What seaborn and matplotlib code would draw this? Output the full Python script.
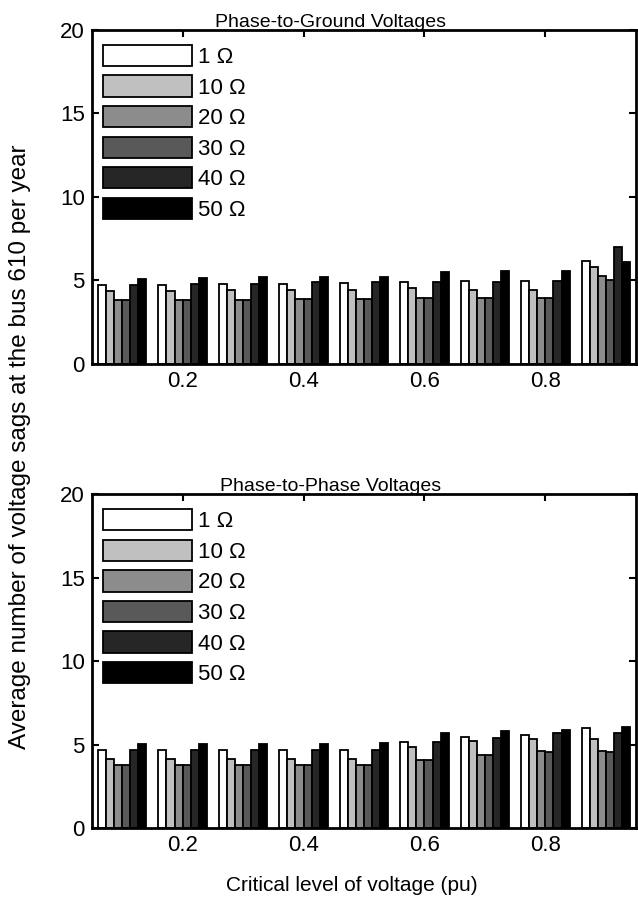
'''
Grouped bar charts of voltage sags at bus 610 for different fault resistances.
'''

import pandas as pd
import matplotlib
matplotlib.use("Agg")
import matplotlib.pyplot as plt
import seaborn as sns


sns.set_style("ticks")
plt.rcParams['font.family'] = ['Liberation Sans', 'DejaVu Sans']
plt.rcParams['text.color'] = "black"
plt.rcParams['xtick.color'] = "black"
plt.rcParams['ytick.color'] = "black"
plt.rcParams['axes.edgecolor'] = "black"


#Data
levels = [0.1, 0.2, 0.3, 0.4, 0.5, 0.6, 0.7, 0.8, 0.9]
resistances = ["1 Ω", "10 Ω", "20 Ω", "30 Ω", "40 Ω", "50 Ω"]

ground_1 = [4.73, 4.73, 4.77, 4.77, 4.83, 4.87, 4.97, 4.97, 6.17]
ground_10 = [4.39, 4.39, 4.43, 4.43, 4.43, 4.53, 4.43, 4.43, 5.77]
ground_20 = [3.83, 3.83, 3.83, 3.89, 3.89, 3.93, 3.93, 3.93, 5.27]
ground_30 = [3.83, 3.83, 3.83, 3.89, 3.89, 3.93, 3.93, 3.93, 5.03]
ground_40 = [4.73, 4.77, 4.77, 4.87, 4.87, 4.87, 4.87, 4.97, 6.99]
ground_50 = [5.07, 5.15, 5.19, 5.19, 5.19, 5.47, 5.53, 5.57, 6.09]

phase_1 = [4.67, 4.67, 4.67, 4.67, 4.67, 5.17, 5.47, 5.57, 5.97]
phase_10 = [4.11, 4.11, 4.11, 4.11, 4.11, 4.83, 5.21, 5.31, 5.31]
phase_20 = [3.77, 3.77, 3.77, 3.77, 3.77, 4.07, 4.37, 4.63, 4.63]
phase_30 = [3.77, 3.77, 3.77, 3.77, 3.77, 4.07, 4.37, 4.55, 4.57]
phase_40 = [4.67, 4.67, 4.67, 4.67, 4.67, 5.17, 5.37, 5.67, 5.71]
phase_50 = [5.01, 5.01, 5.01, 5.01, 5.07, 5.71, 5.81, 5.87, 6.03]

greys = ["#FFFFFF", "#C0C0C0", "#8C8C8C", "#595959", "#262626", "#000000"]


def long_frame(series):
    rows = []
    for name, values in zip(resistances, series):
        for lvl, v in zip(levels, values):
            rows.append({"level": lvl, "resistance": name, "sags": v})
    return pd.DataFrame(rows)


ground_data = long_frame([ground_1, ground_10, ground_20, ground_30,
                          ground_40, ground_50])
phase_data = long_frame([phase_1, phase_10, phase_20, phase_30,
                         phase_40, phase_50])

fig = plt.figure(figsize=(6.38, 9.05), dpi=100)
ax_top = fig.add_axes([0.144, 0.598, 0.853, 0.369])
ax_bot = fig.add_axes([0.144, 0.085, 0.853, 0.369])

for ax, data, title in [(ax_top, ground_data, "Phase-to-Ground Voltages"),
                        (ax_bot, phase_data, "Phase-to-Phase Voltages")]:
    sns.barplot(data=data, x="level", y="sags", hue="resistance",
                hue_order=resistances, palette=greys, native_scale=True,
                width=0.8, errorbar=None, edgecolor="black", linewidth=1.3,
                ax=ax)
    ax.set_xlim(0.05, 0.95)
    ax.set_ylim(0, 20)
    ax.set_xticks([0.2, 0.4, 0.6, 0.8])
    ax.set_xticklabels(["0.2", "0.4", "0.6", "0.8"])
    ax.set_yticks([0, 5, 10, 15, 20])
    ax.tick_params(direction="in", top=True, right=True, labelsize=16,
                   length=5, width=1.5, pad=5)
    for spine in ax.spines.values():
        spine.set_linewidth(2)
    ax.set_xlabel("")
    ax.set_ylabel("")
    ax.set_title(title, fontsize=14, x=0.438, pad=2)
    ax.legend(loc="upper left", bbox_to_anchor=(0.02, 0.955), frameon=False,
              fontsize=16, handlelength=4.0, handleheight=1.1,
              labelspacing=0.33, handletextpad=0.3, borderpad=0,
              borderaxespad=0, title=None)

fig.text(0.031, 0.506, "Average number of voltage sags at the bus 610 per year",
         rotation=90, ha="center", va="center", fontsize=17.5)
fig.text(0.552, 0.022, "Critical level of voltage (pu)", ha="center",
         va="center", fontsize=15)

fig.savefig("out.png", dpi=100)
